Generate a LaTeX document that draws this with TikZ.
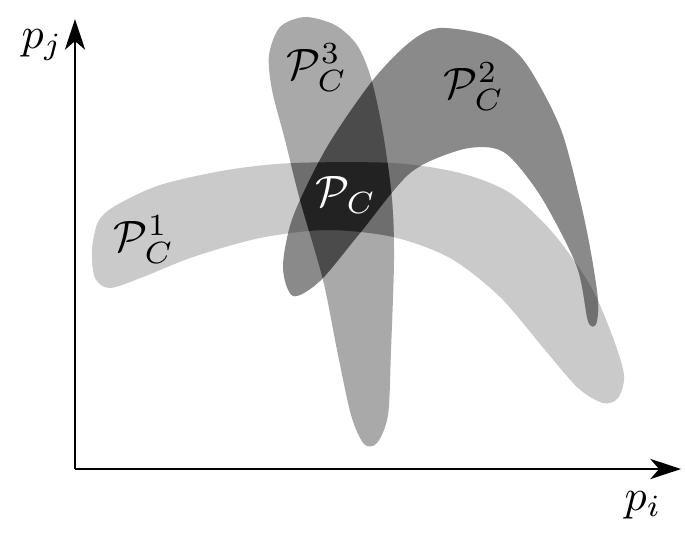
\documentclass[tikz,border=0pt]{standalone}
\usepackage{amsmath}
\usepackage{amssymb}
\usepackage{xcolor}
\usetikzlibrary{arrows.meta}

\definecolor{setone}{HTML}{CACACA}
\definecolor{settwo}{HTML}{8A8A8A}
\definecolor{setthree}{HTML}{A9A9A9}
\definecolor{onetwo}{HTML}{707070}
\definecolor{onethree}{HTML}{6E6E6E}
\definecolor{twothree}{HTML}{4B4B4B}
\definecolor{allsets}{HTML}{222222}

% outlines of the three sets
\newcommand{\outlineone}{plot[smooth cycle] coordinates {
    (92,250) (98,222) (115,206) (160,185) (227,170) (293,163) (393,163)
    (460,173) (510,193) (553,233) (590,285) (612,335) (624,375) (618,398)
    (603,403) (578,388) (545,350) (500,297) (450,258) (393,237)
    (327,230) (260,238) (193,257) (143,277) (110,288) (95,278)}}
\newcommand{\outlinetwo}{plot[smooth cycle] coordinates {
    (293,296) (283,267) (293,217) (327,147) (373,80) (410,42) (440,28)
    (493,37) (525,62) (560,127) (580,200) (591,253) (598,300) (596,324)
    (588,321) (577,267) (543,200) (513,160) (493,148) (460,150) (410,173)
    (360,233) (320,281)}}
\newcommand{\outlinethree}{plot[smooth cycle] coordinates {
    (305,17) (335,25) (357,45) (371,78) (383,133) (392,200) (394,260)
    (391,350) (388,415) (377,443) (364,444) (351,415) (337,350) (323,280)
    (300,200) (285,140) (272,90) (269,55) (280,27)}}

\begin{document}
\begin{tikzpicture}[
    x=0.08mm, y=-0.08mm,
    axis/.style={line width=0.5pt, -{Stealth[length=7pt, width=4.6pt, inset=2pt]}},
    setlabel/.style={inner sep=0pt}
]
\useasboundingbox (0,0) rectangle (685,532);

% ===== Sets =====
\fill[setone] \outlineone;
\fill[setthree] \outlinethree;
\fill[settwo] \outlinetwo;

% ===== Overlaps =====
\begin{scope}
  \clip \outlineone;
  \fill[onethree] \outlinethree;
\end{scope}
\begin{scope}
  \clip \outlineone;
  \fill[onetwo] \outlinetwo;
\end{scope}
\begin{scope}
  \clip \outlinetwo;
  \fill[twothree] \outlinethree;
\end{scope}
\begin{scope}
  \clip \outlineone;
  \clip \outlinetwo;
  \fill[allsets] \outlinethree;
\end{scope}

% ===== Axes =====
\coordinate (origin) at (75,469);
\coordinate (xend) at (681,469);
\coordinate (yend) at (75,19);
\draw[axis] (origin) -- (xend);
\draw[axis] (origin) -- (yend);

\node[setlabel] (pi) at (643,505) {$p_i$};
\node[setlabel] (pj) at (42,45) {$p_j$};

% ===== Labels =====
\node[setlabel] (pone) at (144,240) {$\mathcal{P}_C^1$};
\node[setlabel] (ptwo) at (474,87) {$\mathcal{P}_C^2$};
\node[setlabel] (pthree) at (317,68) {$\mathcal{P}_C^3$};
\node[setlabel, white] (pall) at (346,195) {$\mathcal{P}_C$};

\end{tikzpicture}
\end{document}
